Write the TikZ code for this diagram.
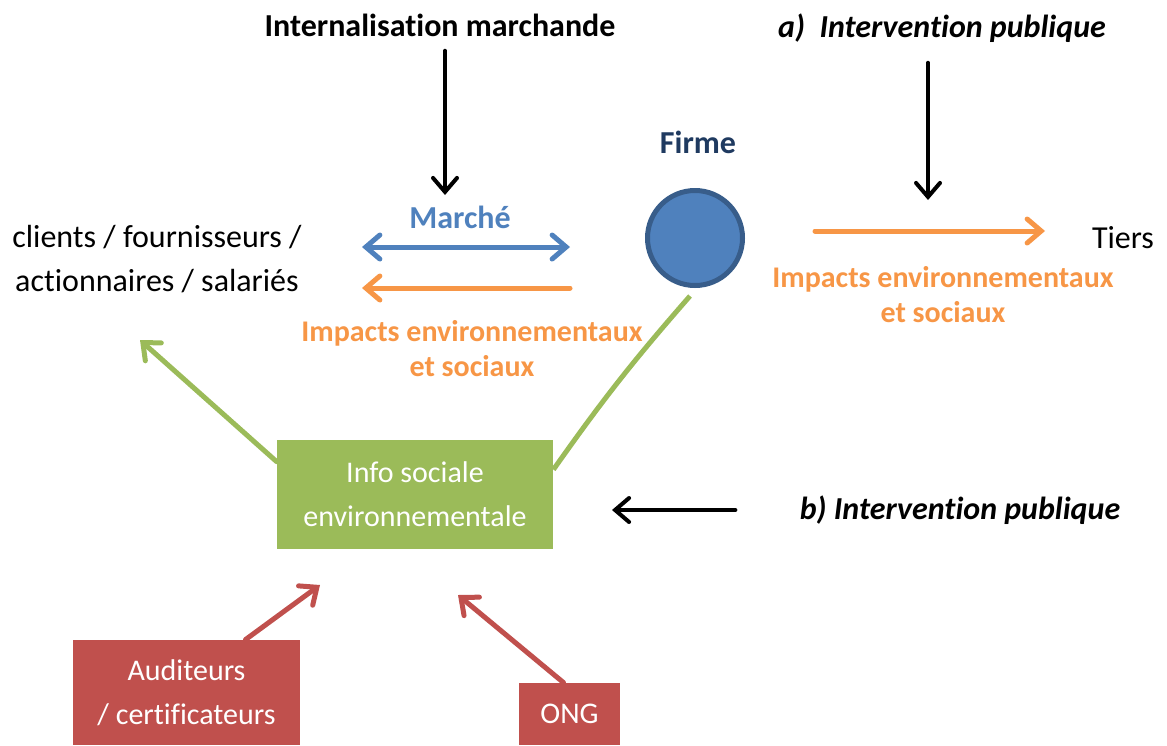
\documentclass[tikz,border=0pt]{standalone}
\usepackage{fontspec}
\setmainfont{Carlito}[Ligatures={NoCommon}]
\usetikzlibrary{positioning,arrows.meta}
\definecolor{firmblue}{HTML}{4F81BD}
\definecolor{firmedge}{HTML}{385D8A}
\definecolor{firmtitle}{HTML}{1F3A60}
\definecolor{impactorange}{HTML}{F79646}
\definecolor{infogreen}{HTML}{9BBB59}
\definecolor{actorred}{HTML}{C0504D}

\tikzset{
  txt/.style={inner sep=0pt, align=center, font=\fontsize{16}{22}\selectfont},
  title/.style={inner sep=0pt, font=\bfseries\fontsize{16}{22}\selectfont},
  impact/.style={inner sep=0pt, align=center, text=impactorange,
    font=\bfseries\fontsize{15}{17.5}\selectfont},
  colbox/.style={inner sep=0pt, align=center, text=white,
    font=\fontsize{15}{22}\selectfont},
  barb/.style={-{Straight Barb[length=7pt,width=12pt,line cap=round]}, line cap=round},
  dblbarb/.style={{Straight Barb[length=7pt,width=12pt,line cap=round]}-{Straight Barb[length=7pt,width=12pt,line cap=round]}, line cap=round},
  blackarrow/.style={barb, line width=2pt, black},
}

\begin{document}
\begin{tikzpicture}[x=0.5pt,y=-0.5pt]
    \useasboundingbox (0,0) rectangle (1167,745);
    %%%%% THE FIRM AND THE MARKET
    \node[title] (intmarch) at (440,25) {Internalisation marchande};
    \node[title] (inta) at (942,28) {\itshape a)\ \ Intervention publique};
    \node[title, text=firmtitle] (firmlabel) at (698,142) {Firme};
    \node[circle, draw=firmedge, fill=firmblue, line width=2.5pt,
          minimum size=47.5pt, inner sep=0pt] (firm) at (695,238) {};
    \node[title, text=firmblue] (marche) at (460,217) {Marché};
    \node[txt] (clients) at (157,259) {clients / fournisseurs /\\actionnaires / salariés};
    \node[txt] (tiers) at (1123,238) {Tiers};
    \node[impact] (impleft) at (472,349) {Impacts environnementaux\\et sociaux};
    \node[impact] (impright) at (943,295) {Impacts environnementaux\\et sociaux};
    \coordinate (imtip) at (445,195);
    \coordinate (intatip) at (928,200);
    \coordinate (mktleft) at (362,247);
    \coordinate (mktright) at (570,247);
    \coordinate (impleftend) at (362,288);
    \coordinate (impleftstart) at (570,288);
    \coordinate (tiersstart) at (815,231);
    \coordinate (tiersend) at (1045,231);
    %%%%% THE INFORMATION
    \node[colbox, fill=infogreen, minimum width=138pt, minimum height=54.5pt]
        (info) at (415,494.5) {Info sociale\\environnementale};
    \node[title] (intb) at (960,510) {\itshape b) Intervention publique};
    \node[colbox, fill=actorred, minimum width=113.5pt, minimum height=52.5pt]
        (aud) at (186.5,692.5) {Auditeurs\\/ certificateurs};
    \node[colbox, fill=actorred, minimum width=50.5pt, minimum height=31pt]
        (ong) at (569.5,714) {ONG};
    \coordinate (clienttip) at (140,340);
    \coordinate (audtip) at (320,585);
    \coordinate (ongtip) at (458,595);
    \coordinate (btip) at (612,510);
    %%%% LINKS
    \draw[blackarrow] ([xshift=2.5pt,yshift=-7pt]intmarch.south) -- (imtip);
    \draw[blackarrow] ([xshift=-7pt,yshift=-10pt]inta.south) -- (intatip);
    \draw[blackarrow, shorten <=32] (intb.west) -- (btip);
    \draw[dblbarb, firmblue, line width=2.5pt] (mktleft) -- (mktright);
    \draw[barb, impactorange, line width=2.5pt] (impleftstart) -- (impleftend);
    \draw[barb, impactorange, line width=2.5pt] (tiersstart) -- (tiersend);
    \draw[barb, infogreen, line width=2.5pt] ([yshift=-11pt]info.north west) -- (clienttip);
    \draw[infogreen, line width=2.5pt] ([yshift=-15pt]info.north east)
        to[bend left=3] ([xshift=-2.5pt,yshift=-4pt]firm.south);
    \draw[barb, actorred, line width=2.5pt] ([xshift=29.5pt]aud.north) -- (audtip);
    \draw[barb, actorred, line width=2.5pt] ([xshift=-3pt]ong.north) -- (ongtip);
\end{tikzpicture}
\end{document}
